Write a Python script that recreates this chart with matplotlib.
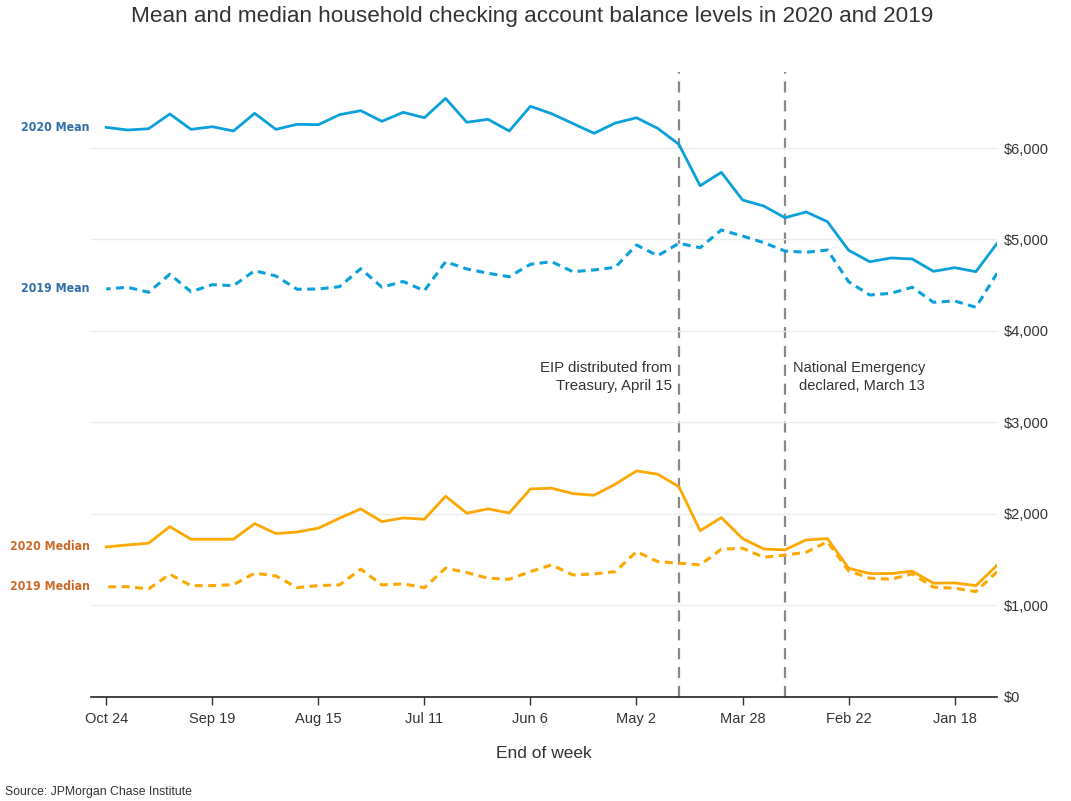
import matplotlib
matplotlib.use("Agg")
import matplotlib.pyplot as plt
import matplotlib.dates as mdates
import pandas as pd

# weekly data, end of week Jan 4 .. Oct 24 2020
weeks = pd.date_range("2020-01-04", periods=43, freq="7D")

mean_2020 = [4958, 4648, 4692, 4652, 4787, 4798, 4757, 4882, 5195, 5301, 5238, 5366, 5432,
             5734, 5588, 6040, 6215, 6331, 6273, 6161, 6268, 6375, 6456, 6186, 6314, 6281,
             6543, 6331, 6390, 6292, 6408, 6364, 6255, 6259, 6204, 6379, 6186, 6233, 6204,
             6372, 6211, 6197, 6226]
mean_2019 = [4631, 4259, 4328, 4314, 4478, 4412, 4393, 4539, 4885, 4860, 4874, 4965, 5038,
             5104, 4910, 4958, 4823, 4940, 4696, 4667, 4648, 4757, 4729, 4593, 4631, 4678,
             4757, 4440, 4541, 4478, 4681, 4484, 4459, 4456, 4601, 4659, 4495, 4506, 4429,
             4620, 4423, 4478, 4459]
median_2020 = [1439, 1216, 1246, 1243, 1374, 1348, 1348, 1407, 1730, 1716, 1607, 1617, 1730,
               1960, 1817, 2298, 2434, 2470, 2325, 2204, 2222, 2281, 2273, 2011, 2055, 2008,
               2193, 1942, 1956, 1916, 2055, 1953, 1844, 1803, 1785, 1894, 1723, 1723, 1723,
               1861, 1680, 1661, 1639]
median_2019 = [1369, 1151, 1188, 1199, 1344, 1286, 1297, 1377, 1697, 1581, 1549, 1527, 1625,
               1614, 1443, 1461, 1479, 1588, 1369, 1344, 1333, 1443, 1369, 1286, 1297, 1359,
               1407, 1194, 1235, 1224, 1396, 1224, 1216, 1194, 1322, 1352, 1227, 1216, 1216,
               1341, 1180, 1205, 1202]

tick_dates = pd.date_range("2020-01-18", periods=9, freq="35D")
y_ticks = [0, 1000, 2000, 3000, 4000, 5000, 6000]
events = [pd.Timestamp("2020-03-14"), pd.Timestamp("2020-04-18")]

plt.rcParams['font.family'] = ['Liberation Sans', 'DejaVu Sans']

BLUE = "#0aa0dc"
ORANGE = "#fda800"

fig = plt.figure(figsize=(10.71, 8.01), dpi=100)
ax = fig.add_axes([0.085, 0.13, 0.846, 0.78])

ax.plot(weeks, mean_2020, color=BLUE, lw=2.0)
ax.plot(weeks, mean_2019, color=BLUE, lw=2.2, linestyle=(0, (2.6, 1.8)))
ax.plot(weeks, median_2020, color=ORANGE, lw=2.0)
ax.plot(weeks, median_2019, color=ORANGE, lw=2.2, linestyle=(0, (2.6, 1.8)))

for d in events:
    ax.axvline(d, color="#888888", lw=1.6, linestyle=(0, (5, 3.5)), zorder=0)

ax.annotate("EIP distributed from\nTreasury, April 15", xy=(events[1], 3500),
            xytext=(-5, 0), textcoords="offset points", ha="right", va="center",
            multialignment="right", fontsize=10.8, color="#333333", linespacing=1.35)
ax.annotate("National Emergency\ndeclared, March 13", xy=(events[0], 3500),
            xytext=(5.5, 0), textcoords="offset points", ha="left", va="center",
            multialignment="right", fontsize=10.5, color="#333333", linespacing=1.35)

# series labels at the Oct 24 end
labels = [("2020 Mean", mean_2020, "#2f6ea8"), ("2019 Mean", mean_2019, "#2f6ea8"),
          ("2020 Median", median_2020, "#cf6a2a"), ("2019 Median", median_2019, "#cf6a2a")]
for text, vals, col in labels:
    ax.annotate(text, xy=(weeks[-1], vals[-1]), xytext=(-12, 0), textcoords="offset points",
                ha="right", va="center", fontsize=8.8, fontweight="bold", color=col,
                family="DejaVu Sans", fontstretch="condensed")

ax.set_xlim(pd.Timestamp("2020-10-29"), pd.Timestamp("2020-01-04"))
ax.set_ylim(0, 6830)

ax.set_xticks(tick_dates)
ax.xaxis.set_major_formatter(mdates.DateFormatter("%b %-d"))
ax.tick_params(axis="x", direction="out", length=6, width=1, colors="#333333",
               labelsize=10.5, pad=5)

ax.yaxis.tick_right()
ax.set_yticks(y_ticks)
ax.set_yticklabels([f"${v:,.0f}" for v in y_ticks])
ax.tick_params(axis="y", length=0, labelsize=10.5, pad=5, colors="#333333")
ax.grid(axis="y", color="#ececec", lw=1)
ax.set_axisbelow(True)

for s in ["top", "left", "right"]:
    ax.spines[s].set_visible(False)
ax.spines["bottom"].set_color("#222222")
ax.spines["bottom"].set_linewidth(1.2)

ax.set_xlabel("End of week", fontsize=12.5, color="#333333", labelpad=14)

fig.suptitle("Mean and median household checking account balance levels in 2020 and 2019",
             fontsize=16.2, color="#333333", x=0.497, y=0.992)
fig.text(0.005, 0.004, "Source: JPMorgan Chase Institute", fontsize=8.8, color="#333333",
         ha="left", va="bottom")

fig.savefig("out.png", dpi=100)
